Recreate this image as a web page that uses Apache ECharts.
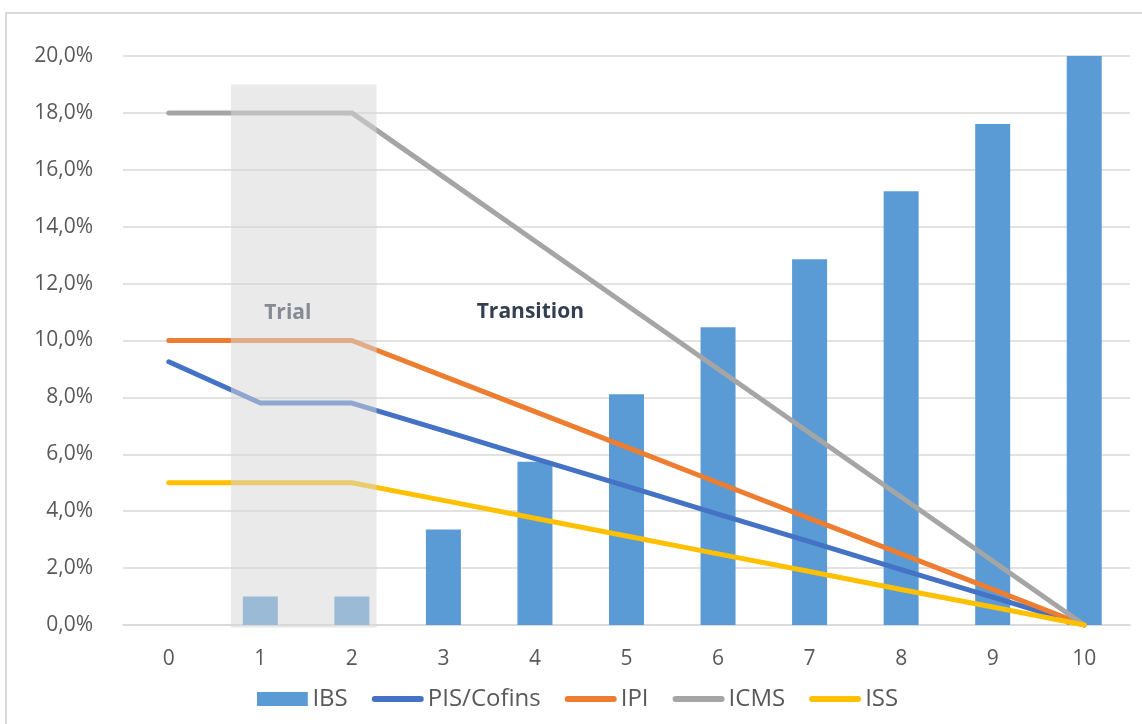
<!DOCTYPE html>
<html>
<head>
<meta charset="utf-8">
<title>IBS transition</title>
<script src="https://cdn.jsdelivr.net/npm/echarts@6/dist/echarts.min.js"></script>
<style>
  html, body { margin: 0; padding: 0; background: #ffffff; }
  #chart { width: 1142px; height: 724px; }
</style>
</head>
<body>
<div id="chart"></div>
<script>
// Years of the reform, 0..10
const years = ['0', '1', '2', '3', '4', '5', '6', '7', '8', '9', '10'];

// Tax rates (%) per year
const ibs        = [null, 1.0, 1.0, 3.36, 5.74, 8.11, 10.47, 12.86, 15.25, 17.61, 20.0];
const pisCofins  = [9.25, 7.8, 7.8, 6.83, 5.85, 4.88, 3.9, 2.93, 1.95, 0.98, 0.0];
const ipi        = [10.0, 10.0, 10.0, 8.75, 7.5, 6.25, 5.0, 3.75, 2.5, 1.25, 0.0];
const icms       = [18.0, 18.0, 18.0, 15.75, 13.5, 11.25, 9.0, 6.75, 4.5, 2.25, 0.0];
const iss        = [5.0, 5.0, 5.0, 4.38, 3.75, 3.13, 2.5, 1.88, 1.25, 0.63, 0.0];

// Trial period window (year span and rate ceiling)
const trialWindow = [[0.68, 2.27, 19.0]];

// Period captions: [year position, rate position, text]
const periodLabels = [[1.3, 10.95, 'Trial'], [3.95, 11.0, 'Transition']];

const FONT = '"Open Sans", "Noto Sans", sans-serif';
const TXT = '#595959';
// legend swatches: a thick round-ended bar for lines, a flat block for bars
const LINE_ICON = 'path://M3,0 L49,0 A3,3 0 0 1 49,6 L3,6 A3,3 0 0 1 3,0 Z';
const BAR_ICON = 'path://M0,0 L49,0 L49,13.5 L0,13.5 Z';

const chart = echarts.init(document.getElementById('chart'), null, { renderer: 'canvas' });

const lineSeries = (name, data, color) => ({
  name, type: 'line', data,
  symbol: 'none',
  z: 3,
  lineStyle: { color, width: 5, cap: 'round', join: 'round' },
  itemStyle: { color }
});

chart.setOption({
  animation: false,
  backgroundColor: '#ffffff',
  textStyle: { fontFamily: FONT },
  graphic: [{
    type: 'rect', z: 0, silent: true,
    shape: { x: 6, y: 13, width: 1300, height: 900 },
    style: { fill: 'none', stroke: '#d9d9d9', lineWidth: 2 }
  }],
  grid: { left: 123, right: 12, top: 56, bottom: 99, containLabel: false },
  legend: {
    left: 252,
    top: 682,
    itemWidth: 52,
    itemHeight: 14,
    itemGap: 24,
    symbolKeepAspect: true,
    textStyle: { color: TXT, fontSize: 24, fontFamily: FONT, padding: [0, 0, 0, -1] },
    data: [
      { name: 'IBS', icon: BAR_ICON },
      { name: 'PIS/Cofins', icon: LINE_ICON },
      { name: 'IPI', icon: LINE_ICON },
      { name: 'ICMS', icon: LINE_ICON },
      { name: 'ISS', icon: LINE_ICON }
    ]
  },
  xAxis: [{
    type: 'category',
    data: years,
    axisLine: { show: true, lineStyle: { color: '#d9d9d9', width: 1.5 } },
    axisTick: { show: false },
    axisLabel: { color: TXT, fontSize: 21, margin: 24, fontFamily: FONT }
  }, {
    type: 'value', min: -0.5, max: 10.5, show: false
  }],
  yAxis: {
    type: 'value',
    min: 0, max: 20, interval: 2,
    axisLine: { show: false },
    axisTick: { show: false },
    splitLine: { lineStyle: { color: '#d9d9d9', width: 1.5 } },
    axisLabel: {
      color: TXT, fontSize: 21, margin: 30, fontFamily: FONT,
      formatter: v => v.toFixed(1).replace('.', ',') + '%'
    }
  },
  series: [
    {
      name: 'IBS', type: 'bar', data: ibs,
      barWidth: 35, z: 2,
      itemStyle: { color: '#5b9bd5' }
    },
    lineSeries('PIS/Cofins', pisCofins, '#4472c4'),
    lineSeries('IPI', ipi, '#ed7d31'),
    lineSeries('ICMS', icms, '#a5a5a5'),
    lineSeries('ISS', iss, '#ffc000'),
    {
      // translucent shading over the trial years
      type: 'custom', xAxisIndex: 1, yAxisIndex: 0,
      data: trialWindow, z: 4, clip: false, silent: true,
      renderItem: (params, api) => {
        const tl = api.coord([api.value(0), api.value(2)]);
        const br = api.coord([api.value(1), -0.1]);
        return {
          type: 'rect',
          shape: { x: tl[0], y: tl[1], width: br[0] - tl[0], height: br[1] - tl[1] },
          style: { fill: 'rgba(215,215,215,0.52)' }
        };
      }
    },
    {
      type: 'custom', xAxisIndex: 1, yAxisIndex: 0,
      data: periodLabels, z: 5, clip: false, silent: true,
      renderItem: (params, api) => {
        const p = api.coord([api.value(0), api.value(1)]);
        const label = periodLabels[params.dataIndex][2];
        return {
          type: 'text',
          x: p[0], y: p[1],
          style: {
            text: label,
            fill: label === 'Trial' ? '#848b95' : '#333f50',
            font: 'bold 21px ' + FONT,
            align: 'center',
            verticalAlign: 'middle'
          }
        };
      }
    }
  ]
});
</script>
</body>
</html>
